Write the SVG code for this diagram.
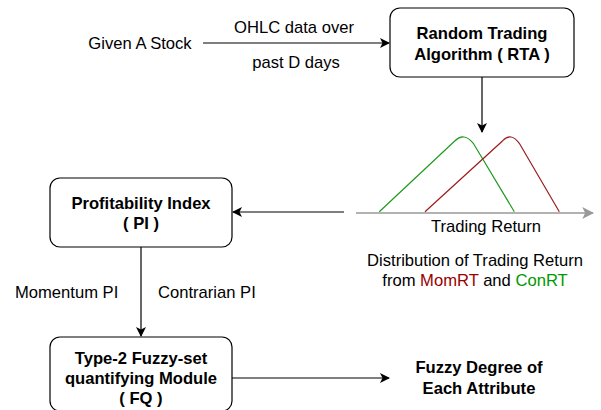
<svg xmlns="http://www.w3.org/2000/svg" width="601" height="410" viewBox="0 0 601 410">
<defs>
<marker id="ah" viewBox="0 0 10 10" refX="9" refY="5" markerWidth="10" markerHeight="10" markerUnits="userSpaceOnUse" orient="auto">
<path d="M0,0 L10,5 L0,10 L2.5,5 Z" fill="#000"/>
</marker>
<marker id="ahg" viewBox="0 0 10 10" refX="9" refY="5" markerWidth="12" markerHeight="12" markerUnits="userSpaceOnUse" orient="auto">
<path d="M0,0 L10,5 L0,10 L2.5,5 Z" fill="#999"/>
</marker>
<style>
.box{fill:#fff;stroke:#000;stroke-width:1.2}
.t{font-family:"Liberation Sans",Arial,sans-serif;font-size:16.6px;fill:#000}
.b{font-weight:bold}
.c{text-anchor:middle}
.ln{stroke:#000;stroke-width:1.2;fill:none}
</style>
</defs>
<rect width="601" height="410" fill="#fff"/>
<g id="connectors">
<line class="ln" x1="203" y1="43" x2="389" y2="43" marker-end="url(#ah)"/>
<line class="ln" x1="482" y1="77" x2="482" y2="132" marker-end="url(#ah)"/>
<line class="ln" x1="344" y1="212" x2="233" y2="212" marker-end="url(#ah)"/>
<line class="ln" x1="141" y1="247" x2="141" y2="336" marker-end="url(#ah)"/>
<line class="ln" x1="232" y1="378" x2="389" y2="378" marker-end="url(#ah)"/>
</g>
<g id="input">
<text class="t c" x="140" y="49">Given A Stock</text>
<text class="t c" x="294" y="33">OHLC data over</text>
<text class="t c" x="296" y="68">past D days</text>
</g>
<g id="rta">
<rect class="box" x="390" y="8" width="184" height="69" rx="10"/>
<text class="t b c" x="482" y="39">Random Trading</text>
<text class="t b c" x="482" y="60">Algorithm ( RTA )</text>
</g>
<g id="distribution">
<line x1="356" y1="213" x2="593" y2="213" stroke="#999" stroke-width="1.5" marker-end="url(#ahg)"/>
<path d="M379.3,211.7 L455,140.7 Q464,132 473.3,143.3 L514.3,211.7" fill="none" stroke="#1f9a1f" stroke-width="1.2"/>
<path d="M425,211.7 L502.7,140.7 Q511,132 519.3,143.3 L559.3,211.7" fill="none" stroke="#9b1c1c" stroke-width="1.2"/>
<text class="t c" x="486" y="232">Trading Return</text>
<text class="t c" x="475" y="266">Distribution of Trading Return</text>
<text class="t c" x="475" y="286">from <tspan fill="#990000">MomRT</tspan> and <tspan fill="#009900">ConRT</tspan></text>
</g>
<g id="pi">
<rect class="box" x="50" y="178" width="182" height="69" rx="10"/>
<text class="t b c" x="141" y="209">Profitability Index</text>
<text class="t b c" x="141" y="229">( PI )</text>
</g>
<g id="pi-labels">
<text class="t" x="15" y="298">Momentum PI</text>
<text class="t" x="158" y="298">Contrarian PI</text>
</g>
<g id="fq">
<rect class="box" x="50" y="337" width="182" height="74" rx="10"/>
<text class="t b c" x="141" y="364">Type-2 Fuzzy-set</text>
<text class="t b c" x="141" y="384">quantifying Module</text>
<text class="t b c" x="141" y="404">( FQ )</text>
</g>
<g id="output">
<text class="t b c" x="479" y="373">Fuzzy Degree of</text>
<text class="t b c" x="479" y="394">Each Attribute</text>
</g>
</svg>
